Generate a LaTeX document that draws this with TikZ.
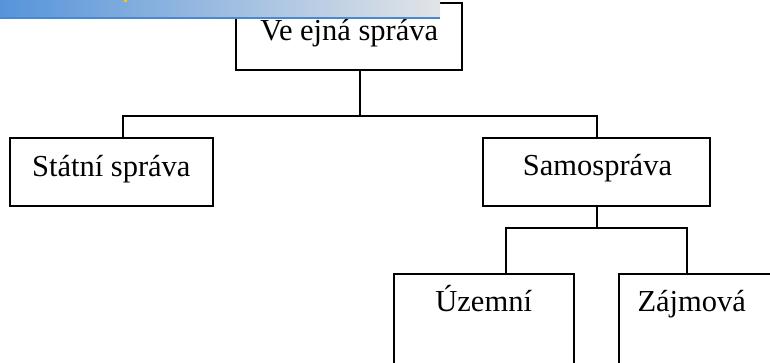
\documentclass[tikz,border=0pt]{standalone}
\usepackage{fontspec}
\setmainfont{Liberation Serif}
\definecolor{bannerL}{RGB}{86,148,218}
\definecolor{bannerR}{RGB}{226,228,231}
\definecolor{bannerLine}{RGB}{74,136,208}
\definecolor{glyphY}{RGB}{250,200,10}
\tikzset{
  box/.style={draw=black, line width=2pt, rectangle, inner sep=0pt},
  lbl/.style={inner sep=0pt, font=\fontsize{30.5}{36}\selectfont},
  conn/.style={draw=black, line width=1.9pt}
}
\begin{document}
\begin{tikzpicture}[x=1pt,y=-1pt]
\useasboundingbox (0,0) rectangle (770,362);
\clip (0,0) rectangle (770,362);
% boxes
\node[box, minimum width=226pt, minimum height=66.4pt] (top) at (348.7,36.5) {};
\node[box, minimum width=202.7pt, minimum height=67.7pt] (statni) at (111.35,172.15) {};
\node[box, minimum width=226.7pt, minimum height=67.7pt] (samo) at (596.65,172.15) {};
\node[box, minimum width=180.3pt, minimum height=116pt] (uzemni) at (484.15,332) {};
\node[box, minimum width=180.7pt, minimum height=116.5pt] (zajmova) at (709.65,331.75) {};
% labels
\node[lbl, anchor=base] (topT) at (349.3,40.2) {Ve ejná správa};
\node[lbl, anchor=base] (statniT) at (111.3,176.5) {Státní správa};
\node[lbl, anchor=base] (samoT) at (597.5,175.5) {Samospráva};
\node[lbl, anchor=base] (uzemniT) at (483.7,311) {Územní};
\node[lbl, anchor=base west] (zajmovaT) at (637.3,311) {Zájmová};
% connectors
\coordinate (busC) at (360,116);
\coordinate (busL) at (123,116);
\coordinate (busR) at (596.7,116);
\coordinate (bus2L) at (506,228.3);
\coordinate (bus2R) at (687.3,228.3);
\draw[conn] (busC |- top.south) -- (busC);
\draw[conn] (busL |- statni.north) -- (busL) -- (busR) -- (busR |- samo.north);
\draw[conn] (samo.south) -- (samo.south |- bus2L);
\draw[conn] (bus2L |- uzemni.north) -- (bus2L) -- (bus2R) -- (bus2R |- zajmova.north);
% banner
\shade[left color=bannerL, right color=bannerR] (0,0) rectangle (440,17);
\fill[bannerLine] (0,16.5) rectangle (440,19);
\fill[glyphY] (123.5,0) rectangle (127.3,2);
\end{tikzpicture}
\end{document}
